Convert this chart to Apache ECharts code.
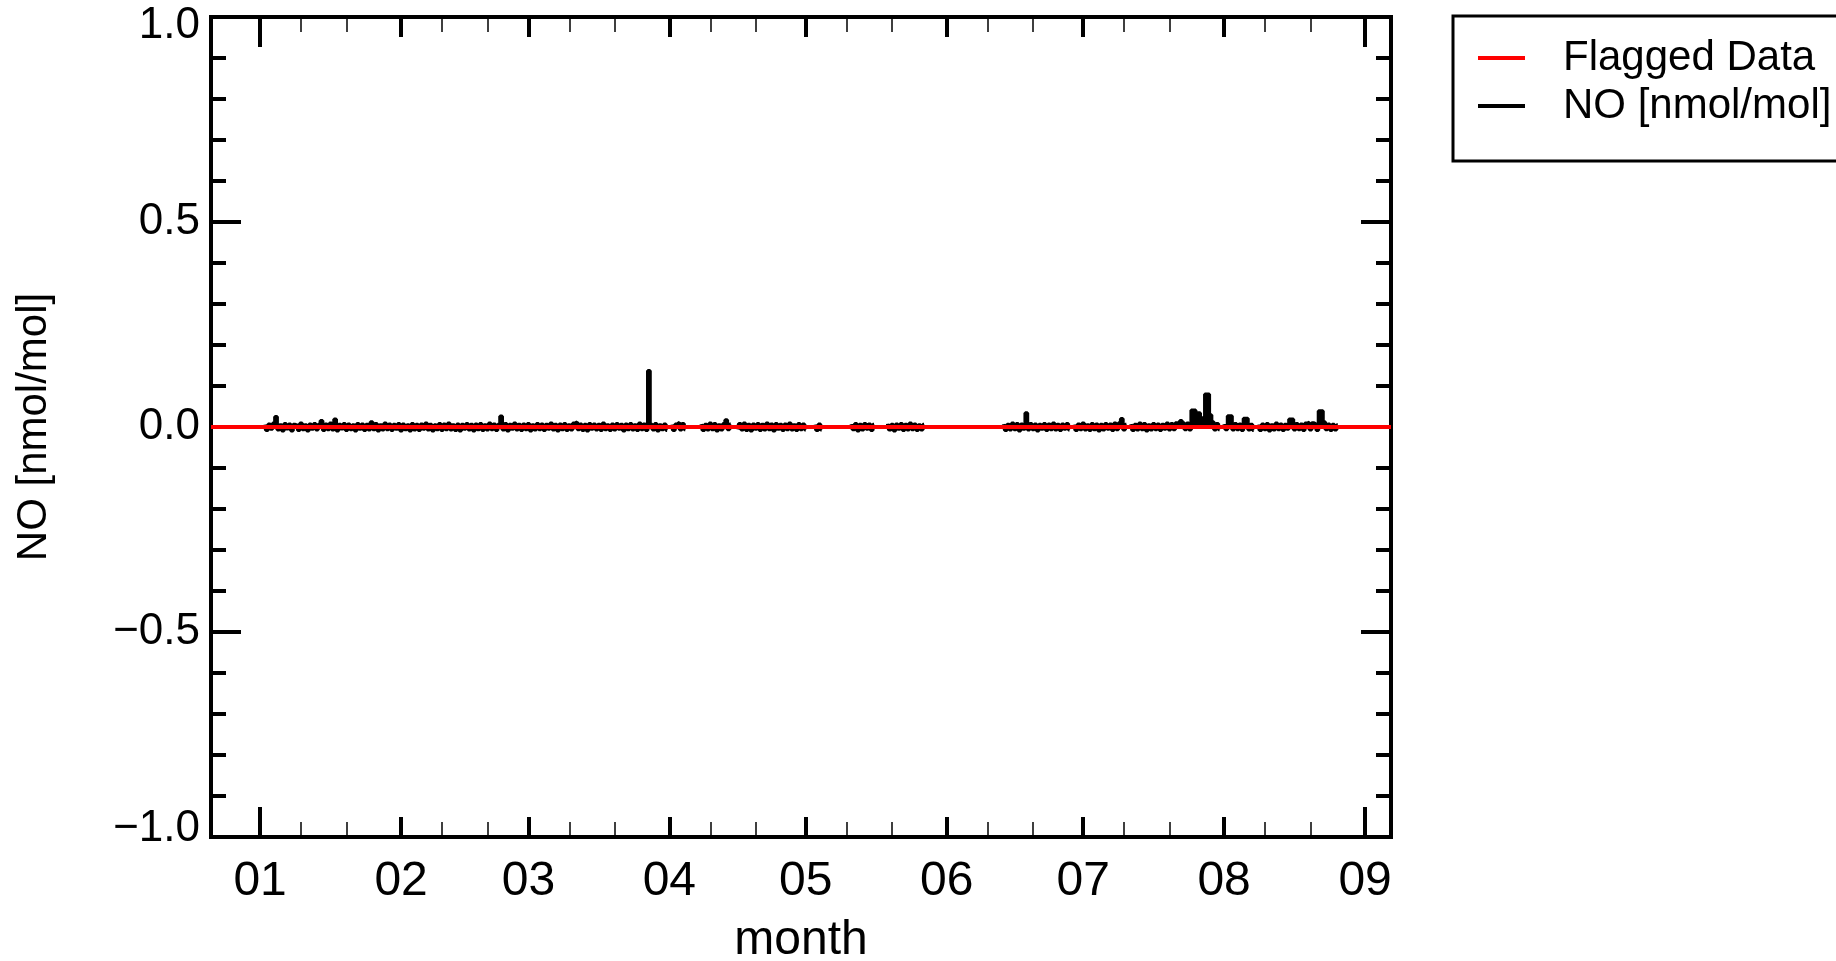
<!DOCTYPE html>
<html>
<head>
<meta charset="utf-8">
<script src="https://cdn.jsdelivr.net/npm/echarts@6/dist/echarts.min.js"></script>
<style>
html,body{margin:0;padding:0;background:#fff;}
#chart{width:1836px;height:961px;}
</style>
</head>
<body>
<div id="chart"></div>
<script>
// ---- axis definitions (days since 1 Jan) ----
const XMIN = -10.8, XMAX = 248.7;
const monthDays = [0, 31, 59, 90, 120, 151, 181, 212, 243];
const monthLabels = ['01', '02', '03', '04', '05', '06', '07', '08', '09'];
const longTickDays = [0, 243];
const minorDays = [9, 19, 40, 50, 68, 78, 99, 109, 129, 139, 160, 170, 190, 200, 221, 231];
const yTickValues = [-1, -0.5, 0, 0.5, 1];
const yTickLabels = ['\u22121.0', '\u22120.5', '0.0', '0.5', '1.0'];

// ---- NO data: segments sampled every half day ----
const STEP = 0.5;
const segStarts = [1.0, 90.5, 97.0, 105.0, 122.0, 130.0, 138.0, 163.5, 179.0, 191.5, 212.0, 219.5];
const seg01 = [
 0.006,-0.008,0.007,-0.005,0.009,0.025,-0.007,0.005,-0.009,0.008,
 -0.004,0.007,-0.009,0.006,0.004,-0.008,0.009,-0.006,0.005,-0.009,
 0.007,-0.005,0.008,-0.007,0.006,0.015,-0.008,0.007,-0.006,0.009,
 -0.007,0.019,-0.009,0.006,-0.004,0.008,-0.008,0.007,-0.006,0.005,
 -0.009,0.008,-0.005,0.007,-0.008,0.006,-0.007,0.012,-0.006,0.008,
 -0.009,0.005,-0.007,0.009,-0.006,0.007,-0.008,0.006,-0.005,0.008,
 -0.009,0.007,-0.006,0.005,-0.009,0.008,-0.007,0.006,-0.008,0.007,
 -0.005,0.009,-0.007,0.006,-0.009,0.005,-0.006,0.008,-0.008,0.007,
 -0.006,0.009,-0.007,0.005,-0.008,0.007,-0.009,0.006,-0.005,0.008,
 -0.007,0.006,-0.009,0.007,-0.006,0.008,-0.008,0.005,-0.007,0.009,
 -0.006,0.007,-0.008,0.006,0.026,-0.007,0.008,-0.009,0.006,-0.005,
 0.009,-0.007,0.006,-0.008,0.007,-0.006,0.008,-0.009,0.005,-0.007,
 0.008,-0.006,0.007,-0.008,0.006,-0.005,0.009,-0.007,0.006,-0.009,
 0.007,-0.006,0.008,-0.008,0.005,-0.007,0.009,0.012,-0.006,0.007,
 -0.008,0.006,-0.009,0.008,-0.005,0.007,-0.007,0.006,-0.008,0.009,
 -0.006,0.005,-0.008,0.007,-0.007,0.008,-0.005,0.006,-0.009,0.007,
 -0.006,0.008,-0.007,0.005,-0.008,0.009,-0.006,0.007,-0.008,0.137,
 0.006,-0.007,0.008,-0.009,0.005,-0.006,0.007,-0.008];
const seg02 = [0.006,-0.008,0.007,0.011,-0.007,0.008,-0.006];
const seg03 = [0.007,-0.008,0.006,-0.007,0.009,-0.006,0.008,-0.009,0.005,-0.007,0.008,0.017,-0.006,0.007];
const seg04 = [
 -0.006,0.008,-0.007,0.009,-0.008,0.006,-0.009,0.007,-0.005,0.008,
 -0.008,0.006,-0.007,0.009,-0.006,0.007,-0.009,0.008,-0.005,0.006,
 -0.008,0.007,-0.006,0.009,-0.007,0.005,-0.008,0.008,-0.006,0.007,-0.007];
const seg05 = [0.006,-0.008,0.007,-0.007];
const seg06 = [0.007,-0.006,0.008,-0.009,0.006,-0.007,0.008,-0.005,0.007,-0.008,0.006];
const seg07 = [0.008,-0.007,0.006,-0.009,0.007,-0.005,0.008,-0.008,0.006,-0.007,0.009,-0.006,0.007,-0.008,0.005,-0.007,0.006];
const seg08 = [
 0.007,-0.008,0.006,-0.007,0.009,-0.006,0.008,-0.009,0.007,-0.005,
 0.034,-0.007,0.008,-0.006,0.007,-0.009,0.006,-0.005,0.008,-0.008,
 0.007,-0.006,0.009,-0.007,0.006,-0.008,0.007,-0.005,0.008,-0.007];
const seg09 = [
 0.006,-0.008,0.007,-0.006,0.009,-0.007,0.005,-0.008,0.008,-0.006,
 0.007,-0.009,0.006,-0.007,0.008,-0.005,0.007,-0.008,0.009,-0.006,
 0.010,0.020,-0.007,0.006];
const seg10 = [
 0.007,-0.008,0.006,-0.007,0.009,-0.006,0.008,-0.009,0.005,-0.007,
 0.008,-0.006,0.007,-0.008,0.006,-0.005,0.009,-0.007,0.008,-0.006,
 0.010,0.007,0.015,0.010,-0.006,0.009,-0.007,0.041,0.041,0.034,
 0.034,0.022,0.022,0.080,0.080,0.029,0.012,-0.007,0.008,-0.006];
const seg11 = [0.007,-0.006,0.027,0.027,-0.007,0.008,-0.006,0.007,-0.008,0.021,0.021,-0.007,0.006,-0.008];
const seg12 = [
 0.006,-0.008,0.007,-0.006,0.008,-0.009,0.005,-0.007,0.009,-0.006,
 0.007,-0.008,0.006,-0.005,0.019,0.019,-0.007,0.008,-0.006,0.007,
 -0.008,0.009,0.011,-0.007,0.010,0.006,-0.008,0.039,0.039,0.012,
 -0.006,0.007,-0.008,0.006,-0.007,0.005];

// ---- Flagged data ----
const flaggedDays = [-10.8, 248.7];
const flaggedValues = [0, 0];

const segments = [seg01, seg02, seg03, seg04, seg05, seg06, seg07, seg08, seg09, seg10, seg11, seg12];
const flaggedData = flaggedDays.map(function (d, i) { return [d, flaggedValues[i]]; });

const FONT = '"Liberation Sans", Arial, Helvetica, sans-serif';

function xAx(pos, vals, len, w, extra) {
  return Object.assign({
    type: 'value', position: pos, min: XMIN, max: XMAX,
    axisLine: { show: false, onZero: false },
    axisTick: { show: true, inside: true, length: len, customValues: vals,
                lineStyle: { color: '#000', width: w } },
    axisLabel: { show: false },
    splitLine: { show: false },
    minorTick: { show: false }
  }, extra || {});
}
const frameLine = { show: true, onZero: false, lineStyle: { color: '#000', width: 4, cap: 'square' } };

function yAx(pos, extra) {
  return Object.assign({
    type: 'value', position: pos, min: -1, max: 1, interval: 0.5,
    axisLine: frameLine,
    axisTick: { show: true, inside: true, length: 30, lineStyle: { color: '#000', width: 4 } },
    minorTick: { show: true, splitNumber: 5, length: 15, lineStyle: { color: '#000', width: 4 } },
    splitLine: { show: false },
    axisLabel: { show: false }
  }, extra || {});
}

const series = segments.map(function (vals, k) {
  return {
    name: 'NO [nmol/mol]', type: 'line', xAxisIndex: 0, yAxisIndex: 0,
    data: vals.map(function (v, i) { return [segStarts[k] + i * STEP, v]; }),
    step: 'middle', showSymbol: false, symbol: 'none', color: '#000',
    lineStyle: { color: '#000', width: 3.5 },
    areaStyle: { color: '#000', opacity: 1, origin: 0 },
    z: 2
  };
});
series.push({
  name: 'Flagged Data', type: 'line', xAxisIndex: 0, yAxisIndex: 0,
  data: flaggedData, showSymbol: false, symbol: 'none', color: '#ff0000',
  lineStyle: { color: '#ff0000', width: 4 }, z: 3
});

const chart = echarts.init(document.getElementById('chart'), null, { renderer: 'canvas' });
chart.setOption({
  animation: false,
  backgroundColor: '#fff',
  grid: { left: 211, right: 445, top: 17, bottom: 124, containLabel: false, outerBoundsMode: 'none' },
  legend: {
    orient: 'vertical', left: 1453, top: 16,
    padding: [21, 25, 34, 25], itemGap: 6,
    itemWidth: 47, itemHeight: 4, icon: 'rect',
    borderColor: '#000', borderWidth: 3, borderRadius: 0,
    selectedMode: false,
    textStyle: { fontSize: 42, lineHeight: 42, fontFamily: FONT, color: '#000', padding: [0, 0, 0, 33] },
    data: ['Flagged Data', 'NO [nmol/mol]']
  },
  xAxis: [
    xAx('bottom', monthDays, 20, 4, {
      axisLine: frameLine,
      axisLabel: {
        show: true, customValues: monthDays, margin: 21,
        fontSize: 48, lineHeight: 48, fontFamily: FONT, color: '#000',
        formatter: function (v) { return monthLabels[monthDays.indexOf(v)]; }
      },
      name: 'month', nameLocation: 'middle', nameGap: 80,
      nameTextStyle: { fontSize: 48, lineHeight: 48, fontFamily: FONT, color: '#000' }
    }),
    xAx('bottom', longTickDays, 30, 4),
    xAx('bottom', minorDays, 15, 1.5),
    xAx('top', monthDays, 20, 4, { axisLine: frameLine }),
    xAx('top', longTickDays, 30, 4),
    xAx('top', minorDays, 15, 1.5)
  ],
  yAxis: [
    yAx('left', {
      axisLabel: {
        show: true, margin: 11, fontSize: 44, fontFamily: FONT, color: '#000',
        showMinLabel: true, showMaxLabel: true,
        formatter: function (v) {
          const idx = yTickValues.findIndex(function (t) { return Math.abs(t - v) < 1e-9; });
          const s = idx >= 0 ? yTickLabels[idx] : '';
          if (v >= 1 - 1e-9) return '{top|' + s + '}';
          if (v <= -1 + 1e-9) return '{bot|' + s + '}';
          return '{n|' + s + '}';
        },
        rich: {
          n: { fontSize: 44, fontFamily: FONT, color: '#000' },
          top: { fontSize: 44, fontFamily: FONT, color: '#000', padding: [18, 0, 0, 0] },
          bot: { fontSize: 44, fontFamily: FONT, color: '#000', padding: [0, 0, 16, 0] }
        }
      },
      name: 'NO [nmol/mol]', nameLocation: 'middle', nameRotate: 90, nameGap: 156,
      nameTextStyle: { fontSize: 42, lineHeight: 42, fontFamily: FONT, color: '#000' }
    }),
    yAx('right')
  ],
  series: series
});
</script>
</body>
</html>
